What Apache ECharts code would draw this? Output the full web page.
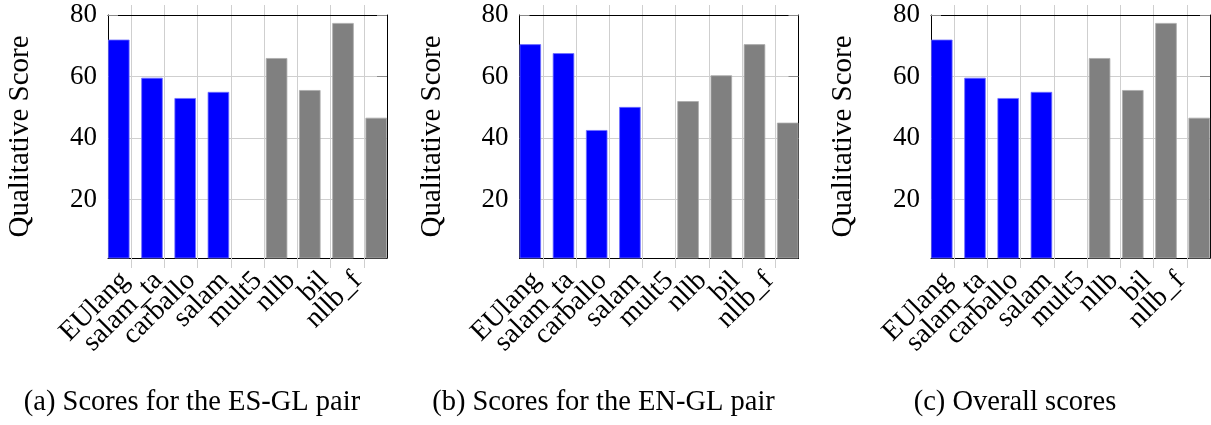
<!DOCTYPE html>
<html>
<head>
<meta charset="utf-8">
<script src="https://cdn.jsdelivr.net/npm/echarts@6/dist/echarts.min.js"></script>
<style>
html,body{margin:0;padding:0;background:#fff;}
#chart{width:1211px;height:425px;}
</style>
</head>
<body>
<div id="chart"></div>
<script>
// ---- data ----
var categories = ['EUlang', 'salam_ta', 'carballo', 'salam', 'mult5', 'nllb', 'bil', 'nllb_f'];
var blueCategories = ['EUlang', 'salam_ta', 'carballo', 'salam'];
var grayCategories = ['mult5', 'nllb', 'bil', 'nllb_f'];
var esglBlue = [72, 59.6, 53, 55];
var esglGray = [66, 55.6, 77.4, 46.6];
var englBlue = [70.5, 67.6, 42.6, 50.1];
var englGray = [52, 60.4, 70.5, 45];
var overallBlue = [72, 59.6, 53, 55];
var overallGray = [66, 55.6, 77.4, 46.6];
var yTicks = [20, 40, 60, 80];
var captions = ['(a) Scores for the ES-GL pair', '(b) Scores for the EN-GL pair', '(c) Overall scores'];
var yAxisTitle = 'Qualitative Score';

// ---- layout ----
var FONT = '"Liberation Serif", "DejaVu Serif", serif';
var panels = [
  {blue: esglBlue, gray: esglGray, left: 108, capX: 192},
  {blue: englBlue, gray: englGray, left: 519.5, capX: 603.5},
  {blue: overallBlue, gray: overallGray, left: 931, capX: 1015}
];
var catIdx = categories.map(function (c, i) { return i; });
var GRID_COLOR = '#cfcfcf';
var LABEL_GROUPS = 4; // labels split over several hidden axes so that none gets auto-hidden

var grids = [], xAxes = [], yAxes = [], series = [], graphics = [];
panels.forEach(function (p, k) {
  grids.push({left: p.left, top: 15, width: 279, height: 243, containLabel: false});
  var xBase = {
    gridIndex: k, type: 'value', min: -0.7, max: 7.7,
    axisLine: {show: true, onZero: false, lineStyle: {color: '#000', width: 1}}
  };
  var mainIndex = xAxes.length;
  xAxes.push(Object.assign({}, xBase, {
    position: 'bottom',
    axisTick: {show: true, inside: false, length: 10, customValues: catIdx, lineStyle: {color: GRID_COLOR, width: 1}},
    axisLabel: {show: false},
    splitLine: {show: true, showMinLine: true, showMaxLine: true, lineStyle: {color: GRID_COLOR, width: 1}}
  }));
  xAxes.push(Object.assign({}, xBase, {
    position: 'top',
    axisTick: {show: true, inside: false, length: 10, customValues: catIdx, lineStyle: {color: GRID_COLOR, width: 1}},
    axisLabel: {show: false},
    splitLine: {show: false}
  }));
  for (var g = 0; g < LABEL_GROUPS; g++) {
    var vals = catIdx.filter(function (i) { return i % LABEL_GROUPS === g; });
    xAxes.push(Object.assign({}, xBase, {
      position: 'bottom',
      axisLine: {show: false, onZero: false},
      axisTick: {show: false},
      splitLine: {show: false},
      axisLabel: {
        show: true, customValues: vals, rotate: 45, margin: 12,
        padding: [0, 9, 0, 0],
        color: '#000', fontFamily: FONT, fontSize: 28,
        formatter: function (v) { return categories[Math.round(v)]; }
      }
    }));
  }
  var yBase = {
    gridIndex: k, type: 'value', min: 1, max: 80,
    axisLine: {show: true, onZero: false, lineStyle: {color: '#000', width: 1}},
    axisTick: {show: true, inside: true, length: 10, customValues: yTicks, lineStyle: {color: '#8a8a8a', width: 1}}
  };
  yAxes.push(Object.assign({}, yBase, {
    position: 'left',
    name: yAxisTitle, nameLocation: 'middle', nameGap: 73, nameRotate: 90,
    nameTextStyle: {color: '#000', fontFamily: FONT, fontSize: 29},
    axisLabel: {show: true, customValues: yTicks, margin: 11, showMaxLabel: true, color: '#000', fontFamily: FONT, fontSize: 27},
    splitLine: {show: true, lineStyle: {color: GRID_COLOR, width: 1}}
  }));
  yAxes.push(Object.assign({}, yBase, {
    position: 'right',
    axisLabel: {show: false},
    splitLine: {show: false}
  }));
  series.push({
    type: 'bar', xAxisIndex: mainIndex, yAxisIndex: 2 * k,
    barWidth: 21.5, barGap: '16%',
    itemStyle: {color: '#0000ff', borderColor: '#7070ff', borderWidth: 0.8},
    data: p.blue.map(function (v, i) { return [categories.indexOf(blueCategories[i]), v]; })
  });
  series.push({
    type: 'bar', xAxisIndex: mainIndex, yAxisIndex: 2 * k,
    barWidth: 21.5, barGap: '16%',
    itemStyle: {color: '#808080', borderColor: '#ababab', borderWidth: 0.8},
    data: p.gray.map(function (v, i) { return [categories.indexOf(grayCategories[i]), v]; })
  });
  graphics.push({
    type: 'text', x: p.capX, y: 403,
    style: {text: captions[k], fill: '#000', font: '28.5px ' + FONT, textAlign: 'center', textVerticalAlign: 'middle'}
  });
});

var chart = echarts.init(document.getElementById('chart'), null, {renderer: 'canvas'});
chart.setOption({
  animation: false,
  backgroundColor: '#fff',
  grid: grids,
  xAxis: xAxes,
  yAxis: yAxes,
  series: series,
  graphic: graphics
});
</script>
</body>
</html>
